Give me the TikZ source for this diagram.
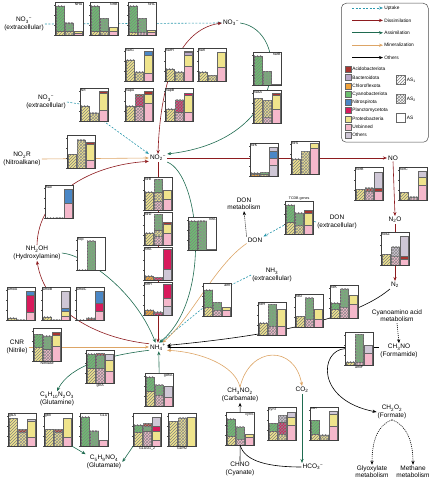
\documentclass[tikz,border=0pt]{standalone}
\usepackage{fontspec}
\setmainfont{Liberation Sans}
\usepackage{tikz}
\usetikzlibrary{arrows.meta}
\usetikzlibrary{patterns}
% taxa
\definecolor{Ac}{HTML}{A9342F}
\definecolor{Ba}{HTML}{B9A7C9}
\definecolor{Ch}{HTML}{F0A23A}
\definecolor{Cy}{HTML}{6CC070}
\definecolor{Ni}{HTML}{4A87C6}
\definecolor{Pl}{HTML}{D81A5C}
\definecolor{Pr}{HTML}{EFE48C}
\definecolor{Un}{HTML}{F5B8CB}
\definecolor{Ot}{HTML}{CFC7D6}
% processes
\definecolor{upc}{HTML}{2E9AAE}
\definecolor{disc}{HTML}{8E1B1F}
\definecolor{assc}{HTML}{1F6B50}
\definecolor{minc}{HTML}{DDA566}
\tikzstyle{met} = [font=\fontsize{6.5}{7.3}\selectfont, align=center, inner sep=1pt]
\tikzstyle{chartbox} = [draw=black!75, fill=white, line width=0.3pt, rectangle,
anchor=north west, minimum width=28pt, minimum height=33pt, inner sep=0pt]
\tikzstyle{chartlab} = [font=\fontsize{3.6}{4}\selectfont, inner sep=0.7pt]
\tikzstyle{lab north west} = [anchor=north west]
\tikzstyle{lab north east} = [anchor=north east]
\tikzstyle{lab south} = [anchor=north]
\tikzstyle{lab north} = [anchor=south]
\tikzstyle{hatch1} = [postaction={pattern=north east lines, pattern color=black!50}]
\tikzstyle{hatch2} = [postaction={pattern=crosshatch, pattern color=black!45}]
\tikzstyle{hatch3} = []
\tikzstyle{tick} = [line width=0.2pt, black!70]
\tikzstyle{uptake} = [upc, line width=0.6pt, dash pattern=on 2pt off 1.5pt, -{Stealth[length=4pt,width=3.2pt]}]
\tikzstyle{dissim} = [disc, line width=0.6pt, -{Stealth[length=4pt,width=3.2pt]}]
\tikzstyle{assim} = [assc, line width=0.6pt, -{Stealth[length=4pt,width=3.2pt]}]
\tikzstyle{miner} = [minc, line width=0.6pt, -{Stealth[length=4pt,width=3.2pt]}]
\tikzstyle{others} = [black, line width=0.6pt, -{Stealth[length=4pt,width=3.2pt]}]
\tikzstyle{dotarrow} = [black, line width=0.6pt, dash pattern=on 1pt off 1pt, -{Stealth[length=4pt,width=3.2pt]}]
\tikzstyle{legtext} = [font=\fontsize{4.8}{5.5}\selectfont, inner sep=1pt, text=black]
\tikzstyle{legbox} = [draw=black!60, line width=0.2pt, minimum size=6pt, inner sep=0pt]
\tikzstyle{legpat} = [draw=black!60, line width=0.3pt, minimum size=9pt, inner sep=0pt]
% one stacked bar: #1 = 1 (AS1), 2 (AS2), 3 (AS); #2 = colour/top list
\newcommand{\stk}[2]{%
  \foreach \segc/\segt [remember=\segt as \segb (initially 0)] in {#2}
    \filldraw[fill=\segc, draw=black!60, line width=0.15pt, hatch#1]
      ({(#1-1)*9.1+0.9},{-\segb*31}) rectangle ({#1*9.1+0.2},{-\segt*31});
}
% name, top left, label, label place, bars
\newcommand{\minichart}[7]{%
  \node[chartbox] (#1) at (#2) {};
  \begin{scope}[shift={(#1.south west)}]
    \stk{1}{#5}\stk{2}{#6}\stk{3}{#7}
    \foreach \k in {0,1,2,3} \draw[tick] (0,-\k*10) -- (-1.5,-\k*10);
  \end{scope}
  \draw[black!75, line width=0.3pt] (#1.south west) rectangle (#1.north east);
  \node[chartlab, lab #4] at (#1.#4) {#3};
}

\begin{document}
\begin{tikzpicture}[x=1pt,y=-1pt]
\useasboundingbox (0,0) rectangle (430,481);

% compounds
\node[met] (no3e1) at (24,24) {NO\textsubscript{3}\textsuperscript{−}\\(extracellular)};
\node[met] (no3) at (231,23) {NO\textsubscript{3}\textsuperscript{−}};
\node[met] (no3e2) at (46,102) {NO\textsubscript{3}\textsuperscript{−}\\(extracellular)};
\node[met] (no2r) at (22,159) {NO\textsubscript{2}R\\(Nitroalkane)};
\node[met] (no2) at (158,158) {NO\textsubscript{2}\textsuperscript{−}};
\node[met] (nh2oh) at (37,253) {NH\textsubscript{2}OH\\(Hydroxylamine)};
\node[met] (cnr) at (17,347) {CNR\\(Nitrile)};
\node[met] (nh4) at (158,347) {NH\textsubscript{4}\textsuperscript{+}};
\node[met] (gln) at (57,399) {C\textsubscript{5}H\textsubscript{10}N\textsubscript{2}O\textsubscript{3}\\(Glutamine)};
\node[met] (glu) at (104,462) {C\textsubscript{5}H\textsubscript{9}NO\textsubscript{4}\\(Glutamate)};
\node[met] (carb) at (240,395) {CH\textsubscript{3}NO\textsubscript{2}\\(Carbamate)};
\node[met] (cyan) at (240,469) {CHNO\\(Cyanate)};
\node[met] (co2) at (302,390) {CO\textsubscript{2}};
\node[met] (hco3) at (313,467) {HCO\textsubscript{3}\textsuperscript{−}};
\node[met] (form) at (392,412) {CH\textsubscript{2}O\textsubscript{2}\\(Formate)};
\node[met] (glyox) at (372,472) {Glyoxylate\\metabolism};
\node[met] (meth) at (413,472) {Methane\\metabolism};
\node[met] (formam) at (399,351) {CH\textsubscript{3}NO\\(Formamide)};
\node[met] (cyano) at (397,316) {Cyanoamino acid\\metabolism};
\node[met] (n2) at (395,285) {N\textsubscript{2}};
\node[met] (n2o) at (395,220) {N\textsubscript{2}O};
\node[met] (no) at (393,158) {NO};
\node[met] (done) at (337,222) {DON\\(extracellular)};
\node[met] (don) at (255,240) {DON};
\node[met] (donmet) at (244,204) {DON\\metabolism};
\node[met] (nh3e) at (272,275) {NH\textsubscript{3}\\(extracellular)};

% connectors (charts are drawn over them)
\draw[uptake] (no3e1.east) -- (no3.west);
\draw[uptake] (no3e2.east) -- (80,104) -- (no2.north west);
\draw[uptake] (nh3e.west) -- (231,285) -- (nh4.60);
\draw[uptake] (done.west) -- (299,217) -- (don.north east);

\draw[dissim, {Stealth[length=4pt,width=3.2pt]}-{Stealth[length=4pt,width=3.2pt]}]
  (no2.north) .. controls (160,90) and (175,30) .. (no3.west);
\draw[dissim] (no2.east) -- (no.west);
\draw[dissim] (no.south) -- (n2o.north);
\draw[dissim] (n2o.south) -- (n2.north);
\draw[dissim] (no2.south) -- (nh4.north);
\draw[dissim] (nh4.160) .. controls (95,338) and (45,310) .. (nh2oh.south);
\draw[dissim] (nh2oh.north) .. controls (38,195) and (90,165) .. (no2.200);

\draw[assim] (no3.east) .. controls (290,30) and (290,140) .. (no2.north east);
\draw[assim] (no2.south east) .. controls (200,175) and (212,300) .. (nh4.75);
\draw[assim] (nh2oh.east) .. controls (85,255) and (135,290) .. (nh4.120);
\draw[assim] (nh4.200) .. controls (110,355) and (70,365) .. (gln.north);
\draw[assim] (co2.south) -- (co2.south |- hco3.north);

\draw[miner] (no2r.east) -- (no2.west);
\draw[miner] (cnr.east) -- (nh4.west);
\draw[miner] (don.south west) .. controls (215,265) and (190,320) .. (nh4.45);
\draw[miner] (carb.north) .. controls (235,365) and (200,352) .. (nh4.-20);
\draw[miner] (carb.north) .. controls (250,345) and (295,345) .. (co2.north);

\draw[others] (n2.south west) .. controls (365,310) and (310,332) .. (nh4.10);
\draw[others] (formam.west |- nh4.east) -- (nh4.east);
\draw[dotarrow] (cyano.south) -- (formam.north);
\draw[dotarrow] (form.south) .. controls (378,425) and (372,440) .. (glyox.north);
\draw[dotarrow] (form.south) .. controls (406,425) and (413,440) .. (meth.north);
\draw[dotarrow] (don.north west) -- (donmet.south);

% gene charts: AS1, AS2, AS
\minichart{cNHA}{55,2}{NHA}{north east}{Pr/0.15,Cy/0.95}{Pr/0.15,Cy/0.4}{Un/0.06,Pr/0.15}
\minichart{cNrtB}{90,2}{NrtB}{north east}{Pr/0.15,Cy/0.95}{Pr/0.15,Cy/0.55}{Un/0.15,Pr/0.28}
\minichart{cNrtC}{128,2}{NrtC}{north east}{Pr/0.1,Cy/0.95}{Un/0.1,Cy/0.55}{Un/0.12,Pr/0.18}
\minichart{cnarG}{125,48}{narG}{north west}{Pr/0.7}{Pr/0.3}{Un/0.25,Pr/0.85,Ni/0.97}
\minichart{cnarH}{165,48}{narH}{north west}{Pr/0.4}{Pr/0.3}{Un/0.5,Pr/0.85,Ba/0.93,Ni/0.98}
\minichart{cnarI}{198,48}{narI}{north west}{Pr/0.3}{Pr/0.2}{Un/0.45,Pr/0.95}
\minichart{cnapA}{125,88}{napA}{north west}{Pr/0.5}{Un/0.5,Pl/0.8,Ac/0.88}{Un/0.6,Pr/0.88,Ac/0.96}
\minichart{cnapB}{165,88}{napB}{north west}{Pr/0.4}{Un/0.3,Pl/0.7}{Un/0.3,Pr/0.85,Pl/0.92}
\minichart{cnarB}{253,52}{narB}{north east}{Cy/0.95}{Cy/0.45}{Ac/0.03}
\minichart{cnasA}{253,90}{nasA}{north west}{Pr/0.8}{Un/0.2,Pr/0.75}{Un/0.45,Pr/0.9,Ac/0.97}
\minichart{cNrt}{80,88}{Nrt}{north west}{Pr/0.5}{Pr/0.28}{Un/0.35,Pr/0.9,Ac/0.96}
\minichart{calk}{67,135}{}{north west}{Pr/0.45}{Pr/0.92}{Un/0.25,Pr/0.78,Ac/0.83}
\minichart{chao}{45,185}{hao}{north west}{Pr/0.01}{Pr/0.01}{Un/0.5,Ni/0.95}
\minichart{chcp}{77,237}{hcp}{north west}{Pr/0.01}{Cy/0.95}{Pr/0.01}
\minichart{camoA}{7,287}{amoA}{north west}{Pr/0.08}{Pr/0.01}{Un/0.25,Pl/0.8,Ni/0.95}
\minichart{camoB}{42,287}{amoB}{north west}{Pr/0.12}{Pr/0.01}{Un/0.15,Pr/0.3,Ni/0.38,Ot/0.95}
\minichart{camoC}{76,287}{amoC}{north west}{Pr/0.01}{Ac/0.08}{Un/0.3,Pl/0.55,Ni/0.95}
\minichart{cnit}{33,328}{Nitrilase}{south}{Pr/0.45,Cy/0.88}{Un/0.4,Cy/0.82}{Un/0.5,Pr/0.85,Ac/0.95}
\minichart{cglnA}{86,350}{glnA}{south}{Pr/0.5,Cy/0.95}{Un/0.5,Cy/0.9,Ac/0.97}{Un/0.4,Pr/0.75,Ot/0.95}
\minichart{cglsA}{8,413}{glsA}{north west}{Pr/0.9}{Pr/0.45,Ac/0.55}{Un/0.3,Pr/0.8,Ot/0.88}
\minichart{cgltB}{44,413}{gltB}{north west}{Pr/0.55}{Pr/0.45,Ac/0.55}{Un/0.3,Pr/0.92}
\minichart{cGLU}{80,413}{GLU}{north east}{Cy/0.95}{Cy/0.5}{Un/0.2}
\minichart{cgdhA}{145,373}{gdhA}{north east}{Pr/0.5,Cy/0.95}{Un/0.35,Cy/0.7}{Un/0.3,Ot/0.65}
\minichart{cGLUD}{133,413}{GLUD1\_2}{south}{Pr/0.45,Cy/0.7}{Un/0.5,Cy/0.65,Ac/0.75}{Un/0.2,Pr/0.5,Pl/0.65,Ot/0.95}
\minichart{cGDH2}{168,413}{GDH2}{south}{Pr/0.8}{Pr/0.92}{Pr/0.95}
\minichart{ccynS}{226,412}{cynS}{north east}{Pr/0.3,Cy/0.85}{Un/0.2,Cy/0.6}{Un/0.25,Pr/0.35}
\minichart{ccynT}{268,407}{cynT}{north west}{Pr/0.3,Cy/0.55}{Pr/0.2,Pl/0.6,Ot/0.8}{Un/0.5,Pr/0.75,Ot/0.9}
\minichart{ccan}{310,407}{can}{north west}{Pr/0.2,Cy/0.65}{Pr/0.18}{Un/0.45,Pr/0.85,Ot/0.95}
\minichart{cnifH}{258,302}{nifH}{north west}{Pr/0.4}{Un/0.3,Cy/1.0}{Un/0.3,Pr/0.85}
\minichart{cnifD}{295,294}{nifD}{north west}{Pr/0.35}{Un/0.25,Cy/0.95}{Un/0.25,Pr/0.6}
\minichart{cnifK}{330,285}{nifK}{north west}{Pr/0.3,Cy/0.5}{Un/0.35,Cy/0.95}{Un/0.45,Pr/0.75}
\minichart{camiF}{345,332}{amiF}{south}{Pr/0.12}{Un/0.1,Cy/1.0}{Un/0.4,Ot/0.65}
\minichart{cTCDB}{285,201}{TCDB genes}{north}{Pr/0.4,Cy/0.95}{Pr/0.3,Cy/0.7}{Un/0.3,Pr/0.7,Ac/0.78}
\minichart{cnirK}{250,143}{nirK}{north west}{Ch/0.06,Pr/0.12}{Pr/0.08,Cy/0.13}{Ot/0.35,Un/0.6,Ni/0.8,Ot/0.95}
\minichart{cnirS}{291,141}{nirS}{north west}{Pr/0.5}{Pr/0.75}{Un/0.85,Pr/1.0}
\minichart{cnorB}{355,167}{norB}{north west}{Pr/0.35}{Un/0.3,Ac/0.4}{Un/0.3,Ac/0.38,Ot/0.9}
\minichart{cnorC}{399,167}{norC}{north west}{Pr/0.25}{Un/0.12}{Un/0.5,Pr/0.75,Ot/0.95}
\minichart{cnosZ}{381,232}{nosZ}{north west}{Pr/0.35}{Un/0.3,Ot/0.6}{Un/0.2,Ac/0.3,Ot/0.95}
\minichart{cnirB}{144,177}{nirB}{north west}{Pr/0.6}{Un/0.3,Pr/0.6,Cy/1.0}{Un/0.35,Pr/0.65}
\minichart{cnirD}{144,212}{nirD}{north west}{Pr/0.4}{Un/0.3,Pr/0.5,Cy/1.0}{Un/0.4,Pr/0.7,Ac/0.76}
\minichart{cnrfA}{144,247}{nrfA}{north west}{Ch/0.15}{Pl/0.1}{Ot/0.35,Pl/1.0}
\minichart{cnrfH}{144,282}{nrfH}{north west}{Ch/0.18}{Pl/0.12}{Ot/0.3,Un/0.55,Pl/1.0}
\minichart{cnirA}{188,217}{nirA}{north east}{Cy/0.95}{Cy/0.95}{Un/0.05}
\minichart{camt}{203,283}{amt}{north east}{Pr/0.3,Cy/0.85}{Un/0.2,Cy/0.45}{Un/0.2,Pr/0.3}

% connectors that start or end at a chart
\draw[assim] (cgltB.south east) -- (glu.north west);
\draw[assim] (cGLUD.south west) -- (glu.east);
\draw[assim] (cgdhA.north) -- (nh4.-80);
\draw[others] (camiF.west) .. controls (320,350) and (315,400) .. (form.west);
\draw[others] (ccynS.north) -- (carb.south);
\draw[others, -] (cyan.north) -- (ccynS.south);
\draw[others, -] (ccynS.south) .. controls (245,462) and (270,467) .. (hco3.west);

% legend
\node[draw=black!70, rounded corners=5pt, line width=0.5pt, anchor=north west,
  minimum width=87pt, minimum height=139pt] (legend) at (341,3) {};
\foreach \sty/\txt [count=\i] in {uptake/Uptake, dissim/Dissimilation, assim/Assimilation,
  miner/Mineralization, others/Others} {
  \pgfmathsetmacro\yy{8+(\i-1)*12.4}
  \draw[\sty] (352,\yy) -- (383,\yy) node[legtext, right] {\txt};
}
\foreach \col/\txt [count=\i] in {Ac/Acidobacteriota, Ba/Bacteroidota, Ch/Chloroflexota,
  Cy/Cyanobacteriota, Ni/Nitrospirota, Pl/Planctomycetota, Pr/Proteobacteria,
  Un/Unbinned, Ot/Others}
  \node[legbox, fill=\col, label={[legtext]right:\txt}] (leg\i) at (348,{61+\i*8.25}) {};
\node[legpat, hatch1, label={[legtext]right:AS\textsubscript{1}}] (as1) at (401,80) {};
\node[legpat, hatch2, label={[legtext]right:AS\textsubscript{2}}] (as2) at (401,99) {};
\node[legpat, label={[legtext]right:AS}] (as) at (401,118) {};
\end{tikzpicture}
\end{document}
